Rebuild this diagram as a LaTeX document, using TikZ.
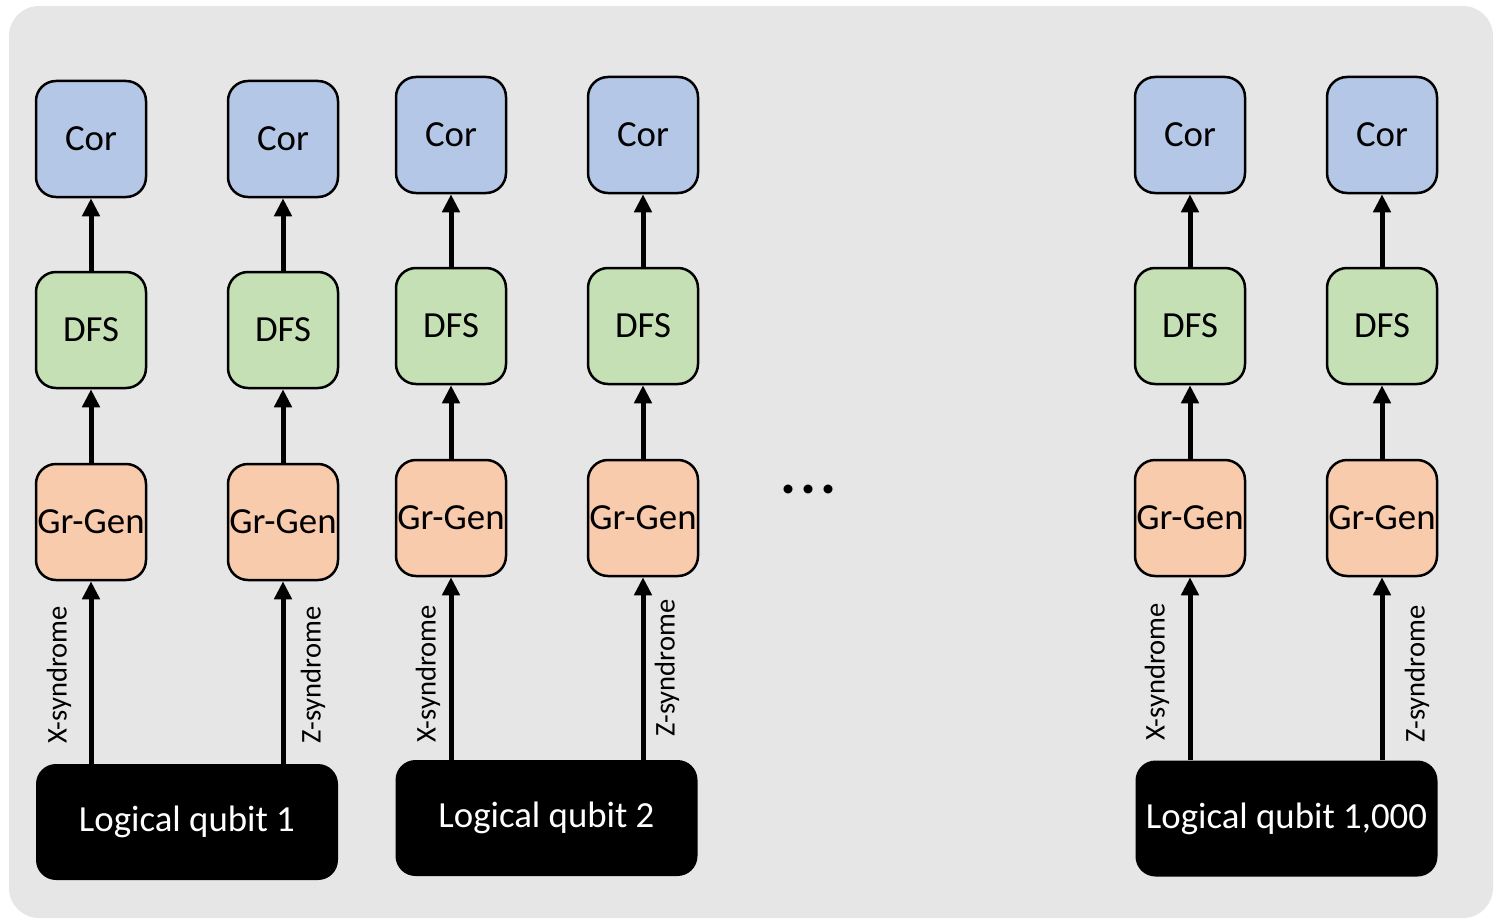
\documentclass[tikz,border=0pt]{standalone}
\usepackage{fontspec}
\setmainfont{Carlito}
\usetikzlibrary{arrows.meta}
\definecolor{panel}{HTML}{E6E6E6}
\definecolor{corfill}{HTML}{B4C7E7}
\definecolor{dfsfill}{HTML}{C5E0B4}
\definecolor{genfill}{HTML}{F8CBAD}
\begin{document}
\begin{tikzpicture}[x=0.5pt,y=-0.5pt,
  unit/.style={draw=black, line width=1.25pt, rounded corners=10pt,
    minimum width=55pt, minimum height=58pt, inner sep=0pt,
    font=\fontsize{18.4}{22}\selectfont},
  cor/.style={unit, fill=corfill},
  dfs/.style={unit, fill=dfsfill},
  gen/.style={unit, fill=genfill},
  qubit/.style={fill=black, rounded corners=10pt, minimum width=151pt,
    minimum height=58pt, inner sep=0pt, text=white,
    font=\fontsize{18.4}{22}\selectfont},
  flow/.style={line width=2.5pt, -{Triangle[width=8.5pt,length=9pt]}},
  synd/.style={rotate=90, inner sep=0pt, font=\fontsize{14.3}{17}\selectfont}]

% panel
\useasboundingbox (0,0) rectangle (1504,920);
\path[fill=panel, rounded corners=15pt] (9,6) rectangle (1493,918);

% decoder pipelines: Gr-Gen -> DFS -> Cor
\foreach \n/\x/\dy in {a/91/0, b/283/0, c/451/-4, d/643/-4, e/1190/-4, f/1382/-4}{
  \node[cor] (cor\n) at (\x,139+\dy) {Cor};
  \node[dfs] (dfs\n) at (\x,330+\dy) {DFS};
  \node[gen] (gen\n) at (\x,522+\dy) {Gr-Gen};
  \draw[flow] (dfs\n.north) -- (cor\n.south);
  \draw[flow] (gen\n.north) -- (dfs\n.south);
}

% logical qubits
\node[qubit] (q1) at (187,822) {Logical qubit 1};
\node[qubit] (q2) at (546.5,818) {Logical qubit 2};
\node[qubit] (q3) at (1286.5,818.5) {Logical qubit 1,000};

% syndrome streams
\draw[flow] (gena |- q1.north) -- (gena.south);
\draw[flow] (genb |- q1.north) -- (genb.south);
\draw[flow] (genc |- q2.north) -- (genc.south);
\draw[flow] (gend |- q2.north) -- (gend.south);
\draw[flow] (gene |- q3.north) -- (gene.south);
\draw[flow] (genf |- q3.north) -- (genf.south);

\node[synd] (xa) at (59,675) {X-syndrome};
\node[synd] (zb) at (313,675) {Z-syndrome};
\node[synd] (xc) at (428,674) {X-syndrome};
\node[synd] (zd) at (667,668) {Z-syndrome};
\node[synd] (xe) at (1157,672) {X-syndrome};
\node[synd] (zf) at (1417,674) {Z-syndrome};

% more qubits in between
\node[inner sep=0pt, font=\fontsize{30}{30}\selectfont\bfseries] (more) at (809,489) {.\kern2pt.\kern2pt.};
\end{tikzpicture}
\end{document}
